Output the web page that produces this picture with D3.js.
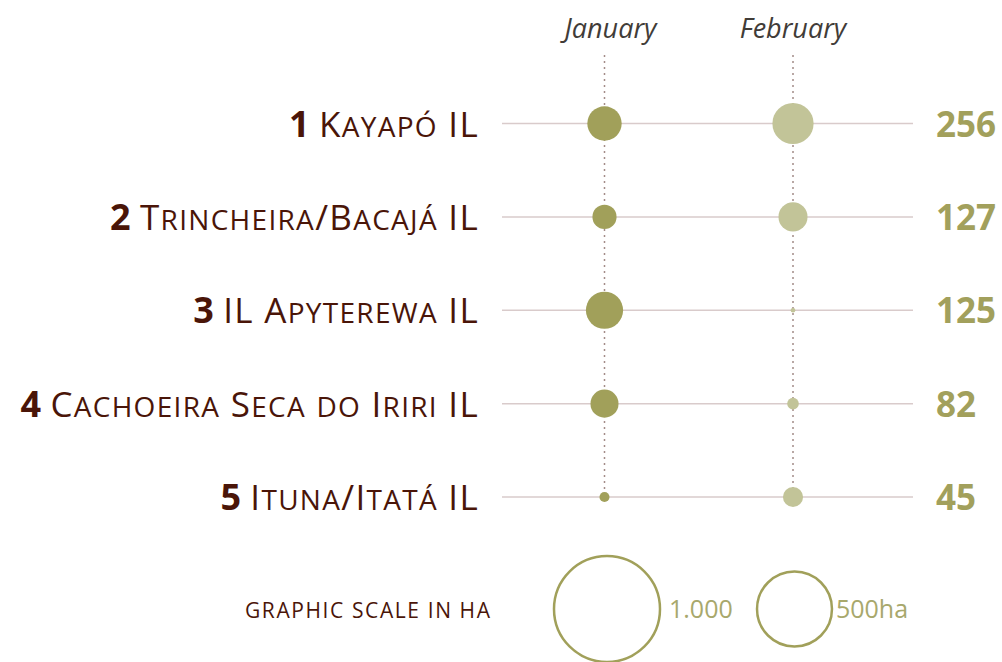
<!DOCTYPE html>
<html>
<head>
  <meta charset="utf-8">
  <title>Deforestation in indigenous lands</title>
  <script src="https://cdnjs.cloudflare.com/ajax/libs/d3/7.8.5/d3.min.js"></script>
  <style>
    body { margin: 0; background: #fff; }
    svg text { font-family: "Open Sans", "Noto Sans", sans-serif; }
    .label { fill: #4a1508; font-size: 36px; }
    .month { fill: #413c38; font-size: 27px; font-style: italic; }
    .total { fill: #a2a05c; font-size: 35px; font-weight: 700; }
    .scale-title { fill: #4a1508; font-size: 21px; letter-spacing: 1.6px; }
    .scale-label { fill: #a8a86c; font-size: 25px; }
  </style>
</head>
<body>
<div id="chart"></div>
<script>
// data
var ranks  = [1, 2, 3, 4, 5];
var lands  = ["Kayapó IL", "Trincheira/Bacajá IL", "IL Apyterewa IL", "Cachoeira Seca do Iriri IL", "Ituna/Itatá IL"];
var months = ["January", "February"];
var jan    = [105, 52, 123, 70, 9];
var feb    = [151, 75, 2, 12, 36];
var totals = [256, 127, 125, 82, 45];
var legendValues = [1000, 500];
var legendLabels = ["1.000", "500ha"];

var width = 1002, height = 662;

var svg = d3.select("#chart")
  .append("svg")
    .attr("width", width)
    .attr("height", height);

var y = d3.scalePoint()
  .domain(lands)
  .range([123.5, 497])
  .padding(0);

var x = d3.scalePoint()
  .domain(months)
  .range([604.5, 793])
  .padding(0);

var r = d3.scaleSqrt().domain([0, 1000]).range([0, 53]);

var rows = lands.map(function(d, i) {
  return {rank: ranks[i], land: d, values: [jan[i], feb[i]], total: totals[i]};
});

// horizontal row lines
svg.selectAll("line.row")
  .data(rows)
  .enter()
  .append("line")
    .attr("class", "row")
    .attr("x1", 502)
    .attr("x2", 913)
    .attr("y1", d => y(d.land))
    .attr("y2", d => y(d.land))
    .attr("stroke", "#d9cbcb")
    .attr("stroke-width", 1.5);

// dotted month guides
svg.selectAll("line.guide")
  .data(months)
  .enter()
  .append("line")
    .attr("class", "guide")
    .attr("x1", d => x(d))
    .attr("x2", d => x(d))
    .attr("y1", 55)
    .attr("y2", y(lands[lands.length - 1]))
    .attr("stroke", "#a38c88")
    .attr("stroke-width", 1.5)
    .attr("stroke-dasharray", "2,4");

// month headers
svg.selectAll("text.month")
  .data(months)
  .enter()
  .append("text")
    .attr("class", "month")
    .attr("x", d => x(d) + (d == "January" ? 6 : 0))
    .attr("y", 38)
    .attr("text-anchor", "middle")
    .text(d => d);

// bubbles
var monthColor = d3.scaleOrdinal().domain(months).range(["#a1a05a", "#c2c498"]);

rows.forEach(function(row) {
  svg.selectAll(null)
    .data(row.values)
    .enter()
    .append("circle")
      .attr("cx", (d, i) => x(months[i]))
      .attr("cy", y(row.land))
      .attr("r", d => r(d))
      .attr("fill", (d, i) => monthColor(months[i]));
});

// split a name into runs for hand made small caps
function smallCaps(s) {
  var runs = [];
  s.split("").forEach(function(c) {
    var small = c !== c.toUpperCase();
    var last = runs[runs.length - 1];
    if (last && last.small === small) last.text += c.toUpperCase();
    else runs.push({small: small, text: c.toUpperCase()});
  });
  return runs;
}

// labels on the left
var labels = svg.selectAll("text.label")
  .data(rows)
  .enter()
  .append("text")
    .attr("class", "label")
    .attr("x", 479)
    .attr("y", d => y(d.land) + 13)
    .attr("text-anchor", "end");
labels.append("tspan").attr("font-weight", 700).text(d => d.rank + " ");
labels.selectAll("tspan.name")
  .data(d => smallCaps(d.land))
  .enter()
  .append("tspan")
    .attr("class", "name")
    .attr("font-size", d => d.small ? "28px" : "35px")
    .attr("letter-spacing", "1.3px")
    .text(d => d.text);

// totals on the right
svg.selectAll("text.total")
  .data(rows)
  .enter()
  .append("text")
    .attr("class", "total")
    .attr("x", 936)
    .attr("y", d => y(d.land) + 13)
    .text(d => d.total);

// graphic scale legend
svg.append("text")
  .attr("class", "scale-title")
  .attr("x", 245)
  .attr("y", 618)
  .text("GRAPHIC SCALE IN HA");

var legendX = [607, 794.5];
svg.selectAll("circle.legend")
  .data(legendValues)
  .enter()
  .append("circle")
    .attr("class", "legend")
    .attr("cx", (d, i) => legendX[i])
    .attr("cy", 609)
    .attr("r", d => r(d))
    .attr("fill", "none")
    .attr("stroke", "#a1a05a")
    .attr("stroke-width", 2.5);

svg.selectAll("text.scale-label")
  .data(legendLabels)
  .enter()
  .append("text")
    .attr("class", "scale-label")
    .attr("x", (d, i) => legendX[i] + r(legendValues[i]) + 9 - (i ? 5 : 0))
    .attr("y", 618)
    .text(d => d);
</script>
</body>
</html>
